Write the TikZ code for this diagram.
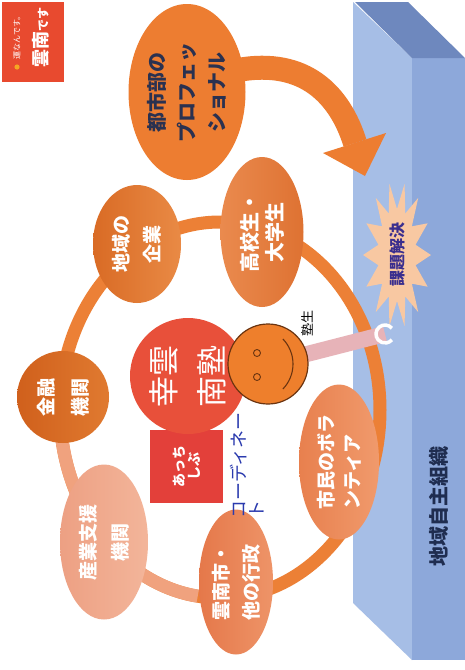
\documentclass[tikz,border=0pt]{standalone}
\usepackage{fontspec}
\newfontfamily\jp{Noto Sans CJK JP}
\usetikzlibrary{shapes.geometric}

\definecolor{metroC}{HTML}{ED7D31}
\definecolor{metroT}{HTML}{2A3150}
\definecolor{ringO}{HTML}{EC8036}
\definecolor{ringS}{HTML}{F0A27E}
\definecolor{kigyoL}{HTML}{D96B25}
\definecolor{kigyoR}{HTML}{E98A45}
\definecolor{gakuL}{HTML}{EA8A4E}
\definecolor{gakuR}{HTML}{DE7232}
\definecolor{kinyuL}{HTML}{D0601C}
\definecolor{kinyuR}{HTML}{E07A30}
\definecolor{sangyoL}{HTML}{EDA083}
\definecolor{sangyoR}{HTML}{F3B59A}
\definecolor{gyoseiL}{HTML}{E5784A}
\definecolor{gyoseiR}{HTML}{EE9468}
\definecolor{shiminL}{HTML}{E8804E}
\definecolor{shiminR}{HTML}{F09A6C}
\definecolor{jukuC}{HTML}{E8503A}
\definecolor{rectC}{HTML}{E3403A}
\definecolor{smileC}{HTML}{EE7F2C}
\definecolor{smileD}{HTML}{6B3410}
\definecolor{barC}{HTML}{E7B3B8}
\definecolor{starC}{HTML}{F8C8A2}
\definecolor{starT}{HTML}{3A2E8E}
\definecolor{wallTop}{HTML}{6E88BE}
\definecolor{wallFront}{HTML}{A6BEE6}
\definecolor{wallSide}{HTML}{8DA8DA}
\definecolor{wallT}{HTML}{1F2D50}
\definecolor{coordT}{HTML}{2A3AAE}
\definecolor{logoC}{HTML}{E84A2F}
\definecolor{dotC}{HTML}{F5A623}

\begin{document}
\begin{tikzpicture}[x=1pt,y=1pt,
  bubble/.style={ellipse, inner sep=0pt, rotate=90, text=white, align=center,
    font={\jp\bfseries\fontsize{19}{31}\selectfont}},
  ringline/.style={line width=13pt},
  label/.style={inner sep=0pt, rotate=90}]

\useasboundingbox (0,0) rectangle (465,-670);
\fill[white] (0,0) rectangle (465,-670);

% community wall (3D slab)
\fill[wallFront] (353,-2) -- (412,-58) -- (412,-660) -- (353,-603) -- cycle;
\fill[wallSide] (412,-58) -- (465,-58) -- (465,-660) -- (412,-660) -- cycle;
\fill[wallTop] (355,-2) -- (408,-2) -- (465,-58) -- (412,-58) -- cycle;
\node[label, font={\jp\bfseries\fontsize{20}{20}\selectfont}, text=wallT] (wall) at (439,-506) {地域自主組織};

% logo
\node[fill=logoC, minimum width=62pt, minimum height=80pt, inner sep=0pt] (logo) at (33,-42) {};
\node[label, text=white, font={\jp\bfseries}] (logotext) at (41,-37)
  {{\fontsize{18}{18}\selectfont 雲南}{\fontsize{12}{12}\selectfont です}};
\node[label, text=white, font={\jp\fontsize{8}{8}\selectfont}] (logosub) at (17,-36) {運なんです。};
\fill[dotC] (17,-67) circle (2.6);

% curved arrow towards the wall
\coordinate (arrS) at (238,-70);
\coordinate (arrE) at (355,-143);
\draw[metroC, line width=24pt] (arrS) .. controls (305,-58) and (340,-95) .. (arrE);
\fill[metroC] (386,-133) -- (365,-176) -- (323,-153) -- cycle;

% ring of partners
\draw[ringO, ringline] (220,-410) ellipse [x radius=160, y radius=188];
\draw[ringS, ringline] (220,-410) ++(182:160 and 188)
  arc[start angle=182, end angle=262, x radius=160, y radius=188];

% partner bubbles
\node[bubble, fill=metroC, text=metroT, minimum width=176pt, minimum height=117pt,
  font={\jp\bfseries\fontsize{20}{30}\selectfont}] (metro) at (187,-92)
  {都市部の\\プロフェッ\\ショナル};
\node[bubble, left color=kigyoL, right color=kigyoR, minimum width=118pt, minimum height=88pt] (kigyo) at (137,-244)
  {地域の\\企業};
\node[bubble, left color=gakuL, right color=gakuR, minimum width=150pt, minimum height=83pt,
  font={\jp\bfseries\fontsize{20}{25}\selectfont}] (gakusei) at (262,-232)
  {高校生・\\大学生};
\node[bubble, circle, left color=kinyuL, right color=kinyuR, minimum size=92pt,
  font={\jp\bfseries\fontsize{19}{34}\selectfont}] (kinyu) at (63,-397)
  {金融\\機関};
\node[bubble, left color=sangyoL, right color=sangyoR, minimum width=155pt, minimum height=88pt,
  font={\jp\bfseries\fontsize{19}{32}\selectfont}] (sangyo) at (104,-542)
  {産業支援\\機関};
\node[bubble, left color=gyoseiL, right color=gyoseiR, minimum width=145pt, minimum height=74pt,
  font={\jp\bfseries\fontsize{19}{30}\selectfont}] (gyosei) at (236,-582)
  {雲南市・\\他の行政};
\node[bubble, left color=shiminL, right color=shiminR, minimum width=155pt, minimum height=80pt,
  align=left, font={\jp\bfseries\fontsize{19}{26}\selectfont}] (shimin) at (339,-462)
  {市民のボラ\\ンティア};

% central school
\node[fill=rectC, minimum width=73pt, minimum height=73pt, inner sep=0pt] (badge) at (186.5,-466.5) {};
\node[label, text=white, font={\jp\bfseries\fontsize{14}{15}\selectfont}, align=center] (badgetext) at (186.5,-466.5) {あっち\\しぶ};
\node[bubble, circle, fill=jukuC, minimum size=116pt,
  font={\jp\fontsize{31}{48}\selectfont}] (juku) at (188,-376)
  {幸雲\\南塾};
\node[label, anchor=west, align=left, text=coordT,
  font={\jp\fontsize{18}{18}\selectfont}] (coord) at (247,-519) {コーディネー\\ト};

% problem solving burst
\begin{scope}[shift={(397,-255)}]
  \fill[starC] (0:34 and 73)
    \foreach \k in {1,...,14}{ -- ({(\k-0.5)*25.714}:19 and 46) -- ({\k*25.714}:34 and 73) } -- cycle;
\end{scope}
\node[label, text=starT, font={\jp\bfseries\fontsize{16}{16}\selectfont}] (kadai) at (397,-254) {課題解決};

% student link to the wall
\coordinate (hook) at (385,-334);
\node[circle, minimum size=80pt, inner sep=0pt] (smile) at (268,-364) {};
\draw[barC, line width=16pt] (smile.center) -- (hook);
\fill[smileC, draw=smileD, line width=1.2pt] (smile.center) circle (40);
\filldraw[fill=smileC, draw=smileD, line width=0.9pt] (257,-353) circle (3.5) (257,-377) circle (3.5);
\draw[smileD, line width=1.1pt] (257,-364) ++(-44:36) arc[start angle=-44, end angle=44, radius=36];
\draw[white, line width=3.5pt] (hook) ++(40:9) arc[start angle=40, end angle=320, radius=9];
\node[label, text=black, font={\jp\fontsize{13}{13}\selectfont}] (jukusei) at (307,-323) {塾生};

\end{tikzpicture}
\end{document}
